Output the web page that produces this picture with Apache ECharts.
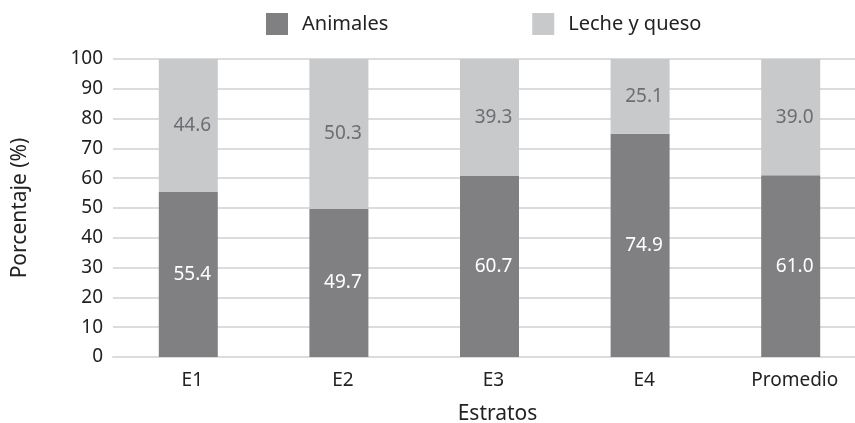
<!DOCTYPE html>
<html>
<head>
<meta charset="utf-8">
<script src="https://cdn.jsdelivr.net/npm/echarts@6/dist/echarts.min.js"></script>
<style>
html, body { margin: 0; padding: 0; background: #fff; }
#chart { width: 855px; height: 423px; }
</style>
</head>
<body>
<div id="chart"></div>
<script>
const categories = ['E1', 'E2', 'E3', 'E4', 'Promedio'];
const animales = [55.4, 49.7, 60.7, 74.9, 61.0];
const lecheQueso = [44.6, 50.3, 39.3, 25.1, 39.0];
const yTicks = [0, 10, 20, 30, 40, 50, 60, 70, 80, 90, 100];

const mychart = echarts.init(document.getElementById('chart'));
const font = '"Noto Sans", "Open Sans", sans-serif';

option = {
  textStyle: { fontFamily: font },
  legend: {
    top: 8,
    left: 261,
    itemWidth: 22,
    itemHeight: 22,
    itemGap: 144,
    icon: 'rect',
    textStyle: { fontSize: 20, color: '#222', fontFamily: font, padding: [0, 0, 0, 9] },
    data: ['Animales', 'Leche y queso']
  },
  grid: { left: 113, right: -11, top: 59, bottom: 66, outerBoundsMode: 'none', containLabel: false },
  xAxis: {
    type: 'category',
    data: categories,
    name: 'Estratos',
    nameLocation: 'middle',
    nameGap: 47,
    nameTextStyle: { fontSize: 21, color: '#222', fontFamily: font, padding: [0, 0, 0, 16] },
    axisLine: { show: true, lineStyle: { color: '#dcdcdc', width: 2 } },
    axisTick: { show: false },
    axisLabel: { fontSize: 19, color: '#222', margin: 14, fontFamily: font, padding: [0, 0, 0, 8] }
  },
  yAxis: {
    type: 'value',
    min: yTicks[0],
    max: yTicks[yTicks.length - 1],
    interval: 10,
    name: 'Porcentaje (%)',
    nameLocation: 'middle',
    nameGap: 82,
    nameTextStyle: { fontSize: 21, color: '#222', fontFamily: font },
    axisLine: { show: false },
    axisTick: { show: false },
    axisLabel: { fontSize: 19, color: '#222', margin: 10, fontFamily: font },
    splitLine: { lineStyle: { color: '#dcdcdc', width: 2 } }
  },
  series: [
    {
      name: 'Animales',
      type: 'bar',
      stack: 'total',
      barWidth: 59,
      data: animales,
      itemStyle: { color: '#808083' },
      label: {
        show: true,
        position: 'inside',
        offset: [4, 0],
        fontSize: 19,
        color: '#fff',
        fontFamily: font,
        formatter: p => p.value.toFixed(1)
      }
    },
    {
      name: 'Leche y queso',
      type: 'bar',
      stack: 'total',
      barWidth: 59,
      data: lecheQueso,
      itemStyle: { color: '#c8c9cb' },
      label: {
        show: true,
        position: 'inside',
        offset: [4, 0],
        fontSize: 19,
        color: '#6d6e71',
        fontFamily: font,
        formatter: p => p.value.toFixed(1)
      }
    }
  ]
};
mychart.setOption(option);
window.addEventListener('resize', function () { mychart.resize(); });
</script>
</body>
</html>
